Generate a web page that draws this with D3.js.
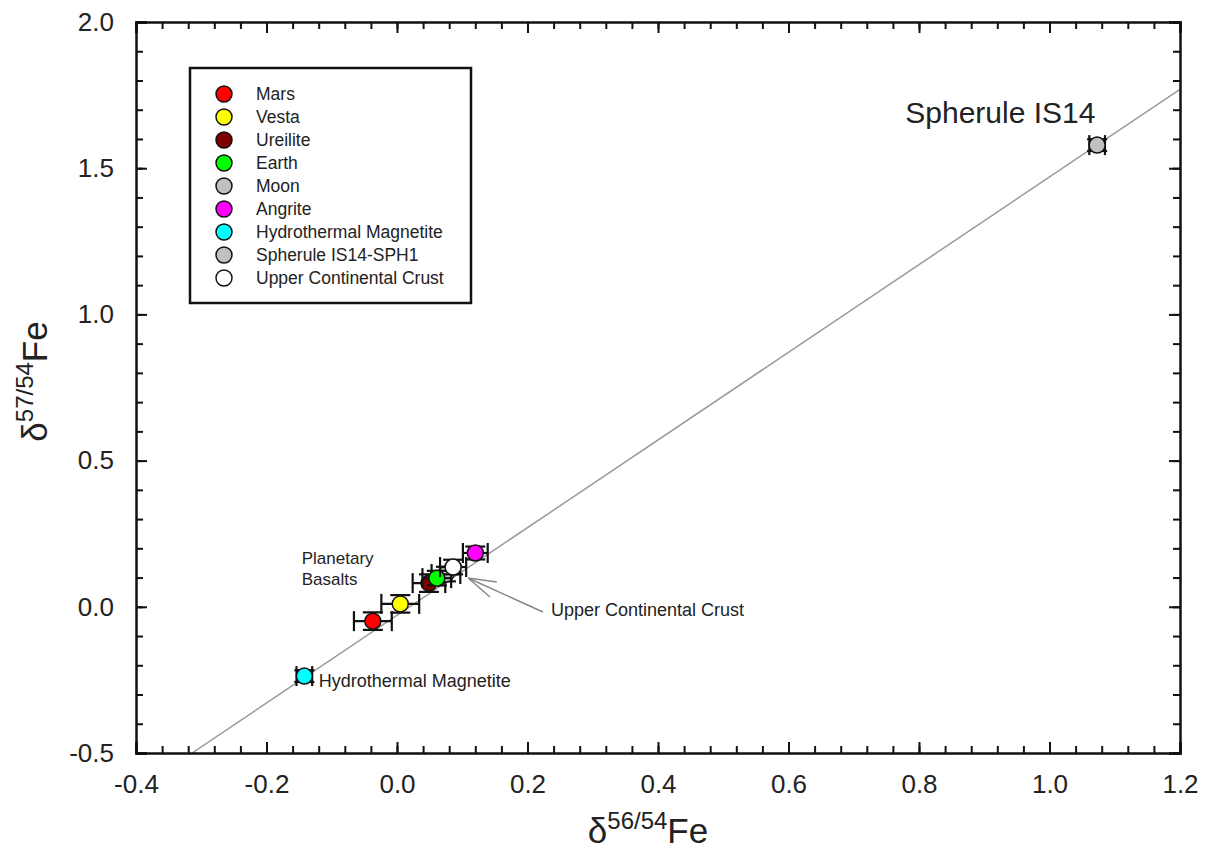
<!DOCTYPE html>
<html>
<head>
<meta charset="utf-8">
<script src="https://cdn.jsdelivr.net/npm/d3@7"></script>
<style>
  body { margin:0; background:#fff; }
  svg text { font-family: "Liberation Sans", Arial, sans-serif; fill:#222; }
</style>
</head>
<body>
<div id="chart"></div>
<script>
// Fe isotope plot: d57/54Fe vs d56/54Fe
const names   = ['Mars','Vesta','Ureilite','Moon','Earth','Angrite','Hydrothermal Magnetite','Spherule IS14-SPH1','Upper Continental Crust'];
const colors  = ['#ff0000','#ffff00','#800000','#c0c0c0','#00ff00','#ff00ff','#00ffff','#c0c0c0','#ffffff'];
const xVals   = [-0.037, 0.005, 0.049, 0.075, 0.061, 0.120, -0.142, 1.073, 0.086];
const yVals   = [-0.049, 0.010, 0.081, 0.112, 0.098, 0.184, -0.237, 1.579, 0.136];
const xErr    = [0.029, 0.029, 0.025, 0.022, 0.022, 0.019, 0.012, 0.012, 0.02];
const yErr    = [0.030, 0.030, 0.030, 0.025, 0.025, 0.022, 0.020, 0.020, 0.025];
// draw order (UCC over Moon, Angrite on top)
const drawOrder = [0,1,2,3,4,8,5,6,7];
const legendOrder = ['Mars','Vesta','Ureilite','Earth','Moon','Angrite','Hydrothermal Magnetite','Spherule IS14-SPH1','Upper Continental Crust'];

const xTicks = [-0.4,-0.2,0.0,0.2,0.4,0.6,0.8,1.0,1.2];
const yTicks = [-0.5,0.0,0.5,1.0,1.5,2.0];
const fitX = [-0.314, 1.2];
const fitY = [-0.5, 1.77];
// leader lines for "Upper Continental Crust"
const leadFrom = [0.109, 0.0985];
const leadTo = [[0.153,0.085],[0.1425,0.0335],[0.2237,-0.0178]];

const W = 1215, H = 857;
const margin = {top:22, right:35, bottom:104, left:136};
const width = W - margin.left - margin.right;
const height = H - margin.top - margin.bottom;

const svg = d3.select('#chart').append('svg').attr('width',W).attr('height',H);
const g = svg.append('g').attr('transform',`translate(${margin.left},${margin.top})`);

const x = d3.scaleLinear().domain([-0.4,1.2]).range([0,width]);
const y = d3.scaleLinear().domain([-0.5,2.0]).range([height,0]);
const fmt = d => d3.format('.1f')(d).replace('\u2212','-');

svg.append('clipPath').attr('id','clip').append('rect').attr('width',width).attr('height',height);

// fit line
g.append('line').attr('clip-path','url(#clip)')
  .attr('x1',x(fitX[0])).attr('y1',y(fitY[0])).attr('x2',x(fitX[1])).attr('y2',y(fitY[1]))
  .attr('stroke','#999').attr('stroke-width',1.5);

// axes (ticks inside, on all four sides)
const xMinor = d3.range(-0.4, 1.2001, 0.04);
const yMinor = d3.range(-0.5, 2.0001, 0.1);
function styleAxis(sel){
  sel.select('.domain').attr('stroke','#111').attr('stroke-width',2.5);
  sel.selectAll('.tick line').attr('stroke','#111').attr('stroke-width',2);
}
function minorStyle(s){ s.select('.domain').remove(); s.selectAll('line').attr('stroke','#111').attr('stroke-width',2); }
const tickFont = 26;
const bx = g.append('g').attr('transform',`translate(0,${height})`)
  .call(d3.axisBottom(x).tickValues(xTicks).tickSize(-11).tickPadding(22).tickFormat(fmt));
bx.selectAll('text').attr('font-size',tickFont).attr('fill','#222').attr('dy','0.71em');
styleAxis(bx);
g.append('g').attr('transform',`translate(0,${height})`)
  .call(d3.axisBottom(x).tickValues(xMinor).tickSize(-7).tickFormat('')).call(minorStyle);
const tx = g.append('g').call(d3.axisTop(x).tickValues(xTicks).tickSize(-11).tickFormat(''));
styleAxis(tx);
g.append('g').call(d3.axisTop(x).tickValues(xMinor).tickSize(-7).tickFormat('')).call(minorStyle);

const ly = g.append('g').call(d3.axisLeft(y).tickValues(yTicks).tickSize(-11).tickPadding(22).tickFormat(fmt));
ly.selectAll('text').attr('font-size',tickFont).attr('fill','#222');
styleAxis(ly);
g.append('g').call(d3.axisLeft(y).tickValues(yMinor).tickSize(-7).tickFormat('')).call(minorStyle);
const ry = g.append('g').attr('transform',`translate(${width},0)`)
  .call(d3.axisRight(y).tickValues(yTicks).tickSize(-11).tickFormat(''));
styleAxis(ry);
g.append('g').attr('transform',`translate(${width},0)`)
  .call(d3.axisRight(y).tickValues(yMinor).tickSize(-7).tickFormat('')).call(minorStyle);

// annotation leader lines
leadTo.forEach(p=>{
  g.append('line').attr('x1',x(leadFrom[0])).attr('y1',y(leadFrom[1]))
    .attr('x2',x(p[0])).attr('y2',y(p[1])).attr('stroke','#888').attr('stroke-width',1.5);
});

// points with error bars
const cap = 10;
drawOrder.forEach(i=>{
  const cx = x(xVals[i]), cy = y(yVals[i]);
  const x0 = x(xVals[i]-xErr[i]), x1 = x(xVals[i]+xErr[i]);
  const y0 = y(yVals[i]-yErr[i]), y1 = y(yVals[i]+yErr[i]);
  const pg = g.append('g').attr('stroke','#111').attr('stroke-width',2.2);
  pg.append('line').attr('x1',x0).attr('x2',x1).attr('y1',cy).attr('y2',cy);
  pg.append('line').attr('x1',x0).attr('x2',x0).attr('y1',cy-cap).attr('y2',cy+cap);
  pg.append('line').attr('x1',x1).attr('x2',x1).attr('y1',cy-cap).attr('y2',cy+cap);
  pg.append('line').attr('x1',cx).attr('x2',cx).attr('y1',y0).attr('y2',y1);
  pg.append('line').attr('x1',cx-cap).attr('x2',cx+cap).attr('y1',y0).attr('y2',y0);
  pg.append('line').attr('x1',cx-cap).attr('x2',cx+cap).attr('y1',y1).attr('y2',y1);
  g.append('circle').attr('cx',cx).attr('cy',cy).attr('r',8)
    .attr('fill',colors[i]).attr('stroke','#111').attr('stroke-width',1.5);
});

// text annotations
const annFont = 18;
g.append('text').attr('x',x(-0.146)).attr('y',y(0.145)).attr('font-size',annFont-1).text('Planetary');
g.append('text').attr('x',x(-0.146)).attr('y',y(0.073)).attr('font-size',annFont-1).text('Basalts');
g.append('text').attr('x',x(-0.12)).attr('y',y(-0.273)).attr('font-size',annFont).text('Hydrothermal Magnetite');
g.append('text').attr('x',x(0.236)).attr('y',y(-0.03)).attr('font-size',annFont).text('Upper Continental Crust');
g.append('text').attr('x',x(0.779)).attr('y',y(1.654)).attr('font-size',30).text('Spherule IS14');

// legend
const lg = svg.append('g');
lg.append('rect').attr('x',190).attr('y',68).attr('width',281).attr('height',235)
  .attr('fill','#fff').attr('stroke','#111').attr('stroke-width',2.5);
legendOrder.forEach((n,k)=>{
  const i = names.indexOf(n);
  const yy = 94 + k*23;
  lg.append('circle').attr('cx',224).attr('cy',yy).attr('r',8)
    .attr('fill',colors[i]).attr('stroke','#111').attr('stroke-width',1.5);
  lg.append('text').attr('x',256).attr('y',yy+6).attr('font-size',17.5).text(n);
});

// axis titles
const xt = svg.append('text').attr('x',margin.left+width/2 - 10).attr('y',843).attr('text-anchor','middle').attr('font-size',35);
xt.append('tspan').text('\u03b4');
xt.append('tspan').attr('font-size',24).attr('dy',-14).text('56/54');
xt.append('tspan').attr('dy',14).text('Fe');

const yt = svg.append('text').attr('transform',`translate(47,${margin.top+height/2 - 6})rotate(-90)`)
  .attr('text-anchor','middle').attr('font-size',35);
yt.append('tspan').text('\u03b4');
yt.append('tspan').attr('font-size',24).attr('dy',-14).text('57/54');
yt.append('tspan').attr('dy',14).text('Fe');
</script>
</body>
</html>
